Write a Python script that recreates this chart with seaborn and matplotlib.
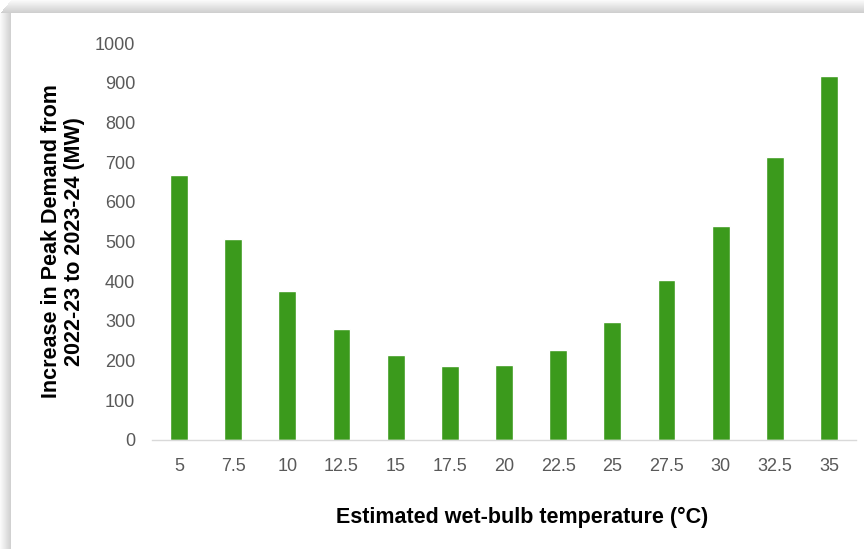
import matplotlib
matplotlib.use("Agg")
import matplotlib.pyplot as plt
import seaborn as sns
import pandas as pd
import numpy as np
from matplotlib.patches import Rectangle

temps = ["5", "7.5", "10", "12.5", "15", "17.5", "20", "22.5", "25", "27.5", "30", "32.5", "35"]
increase_mw = [667, 506, 375, 280, 214, 186, 189, 227, 297, 403, 539, 713, 917]
y_ticks = [0, 100, 200, 300, 400, 500, 600, 700, 800, 900, 1000]

sns.set_theme(style="white")
plt.rcParams['font.family'] = ['Liberation Sans', 'DejaVu Sans']

df = pd.DataFrame({"temp": temps, "mw": increase_mw})

fig = plt.figure(figsize=(8.64, 5.49), dpi=100)
fig.patch.set_facecolor("white")

# soft card shadow on left and top edges
W, H = 864, 549
for i in range(11):
    g = 0.98 - 0.016 * i
    fig.patches.append(Rectangle((i / W, 0), 1 / W, 1 - 13 / H,
                                 transform=fig.transFigure, color=(g, g, g), zorder=0, lw=0))
for j in range(13):
    g = 0.98 - 0.014 * j
    fig.patches.append(Rectangle((11 / W - (j * 11 / 13) / W, 1 - (j + 1) / H),
                                 1, 1 / H,
                                 transform=fig.transFigure, color=(g, g, g), zorder=0, lw=0))

ax = fig.add_axes([152 / W, 1 - 440 / H, (856 - 152) / W, (440 - 43) / H])
ax.set_facecolor("none")
sns.barplot(data=df, x="temp", y="mw", color="#3B9A1C", width=0.33, ax=ax, saturation=1)

ax.set_ylim(0, 1000)
ax.set_yticks(y_ticks)
ax.set_xlim(-0.5, len(temps) - 0.5)
for s in ["top", "right", "left"]:
    ax.spines[s].set_visible(False)
ax.spines["bottom"].set_color("#d9d9d9")
ax.spines["bottom"].set_linewidth(1.0)
ax.tick_params(axis="both", length=0, labelsize=13, labelcolor="#595959")
ax.tick_params(axis="x", pad=13)
ax.tick_params(axis="y", pad=12)
ax.set_xlabel("Estimated wet-bulb temperature (°C)", fontsize=15.5, fontweight="bold",
              color="#000000")
ax.xaxis.set_label_coords(0.5256, -0.168)
ax.set_ylabel("Increase in Peak Demand from\n2022-23 to 2023-24 (MW)", fontsize=15.5,
              fontweight="bold", color="#000000", labelpad=7, linespacing=1.15)

fig.savefig("out.png", dpi=100)
